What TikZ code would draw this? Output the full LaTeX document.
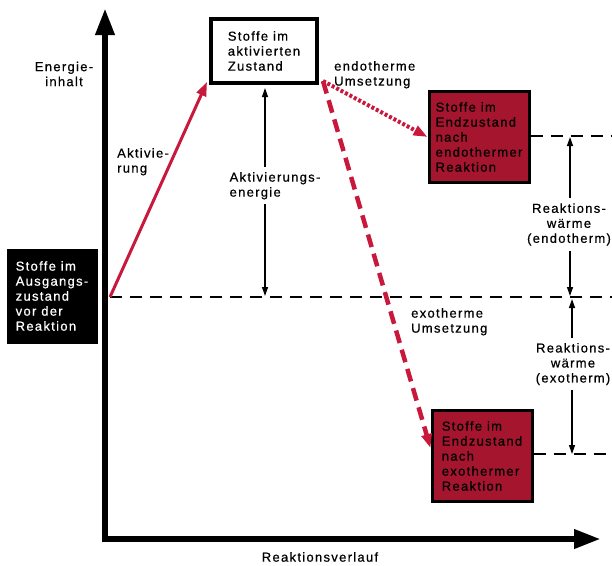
\documentclass[tikz,border=0pt]{standalone}
\usepackage{fontspec}
\setmainfont{Liberation Sans}[LetterSpace=10, FakeBold=0.6]
\usetikzlibrary{arrows.meta}
\definecolor{pfeilrot}{RGB}{200,24,60}
\definecolor{kastenrot}{RGB}{165,22,46}

\tikzset{
    achse/.style={line width=6.5pt, line join=miter, >={Triangle[length=27pt,width=18pt]}},
    hilfslinie/.style={line width=1.8pt, dash pattern=on 12pt off 8pt},
    masspfeil/.style={line width=1.3pt, >={Triangle[length=9pt,width=6pt]}},
    rotpfeil/.style={pfeilrot, >={Triangle[length=14pt,width=10pt]}},
    beschrift/.style={align=left, inner sep=0pt, font=\fontsize{13}{15}\selectfont},
    kasten/.style={beschrift, draw, line width=3pt, align=left},
}

\begin{document}
\begin{tikzpicture}[x=1pt, y=-1pt]
                        \useasboundingbox (0,0) rectangle (612,565);

                        \coordinate (ecke) at (105,539);
                        \coordinate (yspitze) at (105,8);
                        \coordinate (xspitze) at (601,539);
                        \draw[achse, arrows=<->] (yspitze) -- (ecke) -- (xspitze);
                        \node[beschrift, align=center] (energie) at (64,74) {Energie-\\inhalt};
                        \node[beschrift] (verlauf) at (320,557) {Reaktionsverlauf};

                        \node[kasten, fill=black, text=white, minimum width=88pt, minimum height=92pt] (anfang) at (52,296)
                            {Stoffe im\\Ausgangs-\\zustand\\vor der\\Reaktion};
                        \node[kasten, fill=white, line width=4pt, minimum width=106pt, minimum height=64pt] (aktiv) at (264,51)
                            {Stoffe im\\aktivierten\\Zustand};
                        \node[kasten, fill=kastenrot, minimum width=100pt, minimum height=91pt] (endo) at (479,137)
                            {Stoffe im\\Endzustand\\nach\\endothermer\\Reaktion};
                        \node[kasten, fill=kastenrot, minimum width=100pt, minimum height=91pt] (exo) at (482,456)
                            {Stoffe im\\Endzustand\\nach\\exothermer\\Reaktion};

                        \coordinate (start) at (110,297);
                        \coordinate (rechts0) at (612,297);
                        \coordinate (rechts1) at (612,136);
                        \coordinate (rechts2) at (612,454);
                        \draw[hilfslinie] (start) -- (rechts0);
                        \draw[hilfslinie] (endo.east |- rechts1) -- (rechts1);
                        \draw[hilfslinie] (exo.east |- rechts2) -- (rechts2);

                        \draw[rotpfeil, line width=3pt, ->] (start) -- ([shift={(-2,-3)}]aktiv.south west);
                        \node[beschrift, anchor=north west] (aktivierung) at (117,148) {Aktivie-\\rung};

                        \draw[rotpfeil, line width=4pt, dash pattern=on 3pt off 2pt, ->] ([shift={(4,-4)}]aktiv.south east) -- (endo.west);
                        \node[beschrift, anchor=north west] (endoumsatz) at (334,61) {endotherme\\Umsetzung};

                        \draw[rotpfeil, line width=4.5pt, dash pattern=on 13pt off 7pt, ->] ([shift={(4,-4)}]aktiv.south east) -- ([yshift=8pt]exo.west);
                        \node[beschrift, anchor=north west] (exoumsatz) at (411,308) {exotherme\\Umsetzung};

                        \coordinate (ae1) at (265,88);
                        \coordinate (ae2) at (265,296);
                        \draw[masspfeil, arrows=<->] (ae1) -- node[beschrift, fill=white, inner ysep=5pt, xshift=10pt, pos=0.47] (aenergie) {Aktivierungs-\\energie} (ae2);

                        \coordinate (rw1) at (570,137);
                        \coordinate (rw2) at (570,296);
                        \draw[masspfeil, arrows=<->] (rw1) -- node[beschrift, fill=white, inner ysep=5pt, align=center, xshift=-1pt, pos=0.55] (endowaerme) {Reaktions-\\wärme\\(endotherm)} (rw2);

                        \coordinate (rw3) at (572,299);
                        \coordinate (rw4) at (572,454);
                        \draw[masspfeil, arrows=<->] (rw3) -- node[beschrift, fill=white, inner ysep=5pt, align=center, xshift=1pt, pos=0.42] (exowaerme) {Reaktions-\\wärme\\(exotherm)} (rw4);
                    \end{tikzpicture}
\end{document}
